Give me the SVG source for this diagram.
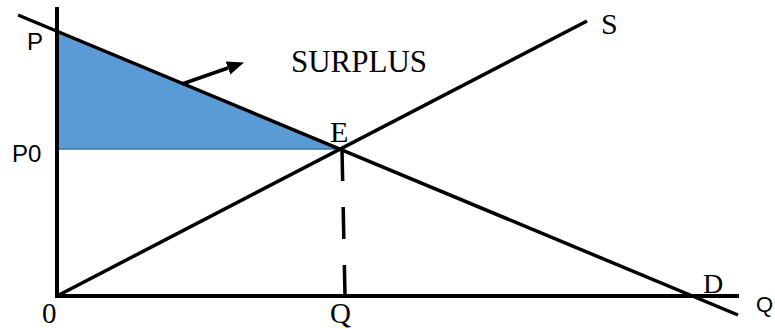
<svg xmlns="http://www.w3.org/2000/svg" width="775" height="329" viewBox="0 0 775 329">
  <style>
    .ln { stroke: #000; stroke-width: 3.5; fill: none; stroke-linecap: butt; }
    .ax { stroke: #000; stroke-width: 4; fill: none; }
    .serif { font-family: "Liberation Serif", "Times New Roman", serif; fill: #000; }
    .sans { font-family: "Liberation Sans", Arial, sans-serif; fill: #000; }
  </style>
  <defs>
    <marker id="head" markerUnits="userSpaceOnUse" markerWidth="18" markerHeight="16" refX="0" refY="8" orient="auto">
      <polygon points="0,1 17,8 0,15" fill="#000"/>
    </marker>
  </defs>
  <rect width="775" height="329" fill="#fff"/>
  <g id="surplus-area">
    <polygon points="57,32 341,149 57,149" fill="#5B9BD5" stroke="#41719C" stroke-width="1.5"/>
  </g>
  <g id="axes">
    <line class="ax" x1="57" y1="7" x2="57" y2="298"/>
    <line class="ax" x1="55" y1="296" x2="739" y2="296"/>
  </g>
  <g id="connectors">
    <line id="demand" class="ln" x1="18" y1="15" x2="738" y2="315"/>
    <line id="supply" class="ln" x1="57" y1="296" x2="587" y2="21"/>
    <line id="dashed" class="ln" x1="342" y1="149" x2="345" y2="296" stroke-dasharray="32 26"/>
    <line id="arrow" class="ln" x1="182" y1="84" x2="228" y2="68" marker-end="url(#head)"/>
  </g>
  <g id="labels">
    <text class="sans" x="27" y="50" font-size="24">P</text>
    <text class="sans" x="12" y="162" font-size="24">P0</text>
    <text class="serif" x="291" y="72" font-size="32" textLength="136" lengthAdjust="spacingAndGlyphs">SURPLUS</text>
    <text class="serif" x="330" y="142" font-size="30">E</text>
    <text class="serif" x="601" y="34" font-size="30">S</text>
    <text class="serif" x="703" y="293" font-size="28">D</text>
    <text class="sans" x="756" y="312" font-size="22">Q</text>
    <text class="serif" x="42" y="323" font-size="29">0</text>
    <text class="serif" x="330" y="323" font-size="29">Q</text>
  </g>
</svg>
